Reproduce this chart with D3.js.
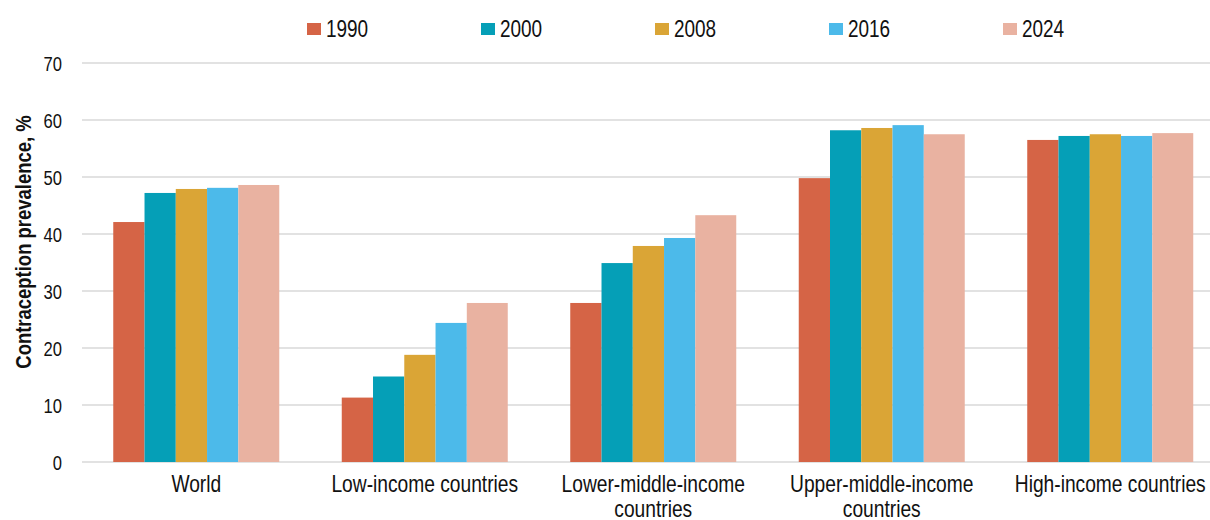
<!DOCTYPE html>
<html><head><meta charset="utf-8">
<script src="https://cdn.jsdelivr.net/npm/d3@7"></script>
<style>
html,body{margin:0;padding:0;background:#fff;}
svg{display:block;}
text{font-family:"Liberation Sans Narrow","Arial Narrow","Liberation Sans",Arial,sans-serif;fill:#111;}
</style></head>
<body>
<svg id="chart" width="1210" height="520"></svg>
<script>
const categories = ["World", "Low-income countries", "Lower-middle-income countries", "Upper-middle-income countries", "High-income countries"];
const categoryLines = [["World"], ["Low-income countries"], ["Lower-middle-income", "countries"], ["Upper-middle-income", "countries"], ["High-income countries"]];
const years = ["1990", "2000", "2008", "2016", "2024"];
const v1990 = [42.1, 11.3, 27.9, 49.8, 56.5];
const v2000 = [47.2, 15.0, 34.9, 58.2, 57.2];
const v2008 = [47.9, 18.8, 37.9, 58.6, 57.5];
const v2016 = [48.1, 24.4, 39.3, 59.1, 57.2];
const v2024 = [48.6, 27.9, 43.3, 57.5, 57.7];
const yTicks = [0, 10, 20, 30, 40, 50, 60, 70];
const colors = ["#D56446", "#059FB7", "#DAA536", "#4CBAEA", "#E9B2A1"];
const seriesValues = [v1990, v2000, v2008, v2016, v2024];

const svg = d3.select("#chart");
const x = d3.scaleBand().domain(categories).range([82, 1224.5]).paddingInner(0.2735).paddingOuter(0.1368);
const y = d3.scaleLinear().domain([0, 70]).range([462, 63]);

// inner widths: last bar wider, as in reference
const weights = [1, 1, 1, 1, 1.31];
const totalW = d3.sum(weights);
const cum = [0]; weights.forEach((w, i) => cum.push(cum[i] + w));

// gridlines
svg.append("g").selectAll("line").data(yTicks).join("line")
  .attr("x1", 82).attr("x2", 1210)
  .attr("y1", d => y(d)).attr("y2", d => y(d))
  .attr("stroke", "#e2e2e2").attr("stroke-width", 2);

// y axis labels (condensed)
const yAxis = d3.axisLeft(y).tickValues(yTicks).tickSize(0).tickPadding(0).tickFormat(d3.format("d"));
const ya = svg.append("g").attr("transform", "translate(62,0)").call(yAxis);
ya.select(".domain").remove();
ya.selectAll(".tick text").attr("x", 0).attr("dy", "0.36em")
  .attr("transform", "scale(0.85,1)")
  .style("font-size", "19.5px").style("font-family", null).attr("fill", "#111");

// bars
const bw = x.bandwidth();
years.forEach((yr, si) => {
  svg.append("g").selectAll("rect").data(categories).join("rect")
    .attr("x", c => x(c) + bw * cum[si] / totalW)
    .attr("width", bw * weights[si] / totalW)
    .attr("y", (c, i) => y(seriesValues[si][i]))
    .attr("height", (c, i) => y(0) - y(seriesValues[si][i]))
    .attr("fill", colors[si]);
});

// category labels
const cl = svg.append("g");
categories.forEach((c, i) => {
  const t = cl.append("text")
    .attr("transform", `translate(${x(c) + bw / 2},492) scale(0.8,1)`)
    .attr("text-anchor", "middle").style("font-size", "24px");
  categoryLines[i].forEach((ln, j) => {
    t.append("tspan").attr("x", 0).attr("dy", j === 0 ? 0 : 25.5).text(ln);
  });
});

// y title
svg.append("text").attr("transform", "translate(31,242) rotate(-90) scale(0.84,1)")
  .attr("text-anchor", "middle").style("font-size", "22px").style("font-weight", "bold")
  .text("Contraception prevalence, %");

// legend
const lg = svg.append("g");
years.forEach((yr, i) => {
  const gx = 307 + i * 174;
  lg.append("rect").attr("x", gx).attr("y", 23).attr("width", 14).attr("height", 12).attr("fill", colors[i]);
  lg.append("text").attr("transform", `translate(${gx + 19},37) scale(0.79,1)`)
    .style("font-size", "24px").text(yr);
});
</script>
</body></html>
